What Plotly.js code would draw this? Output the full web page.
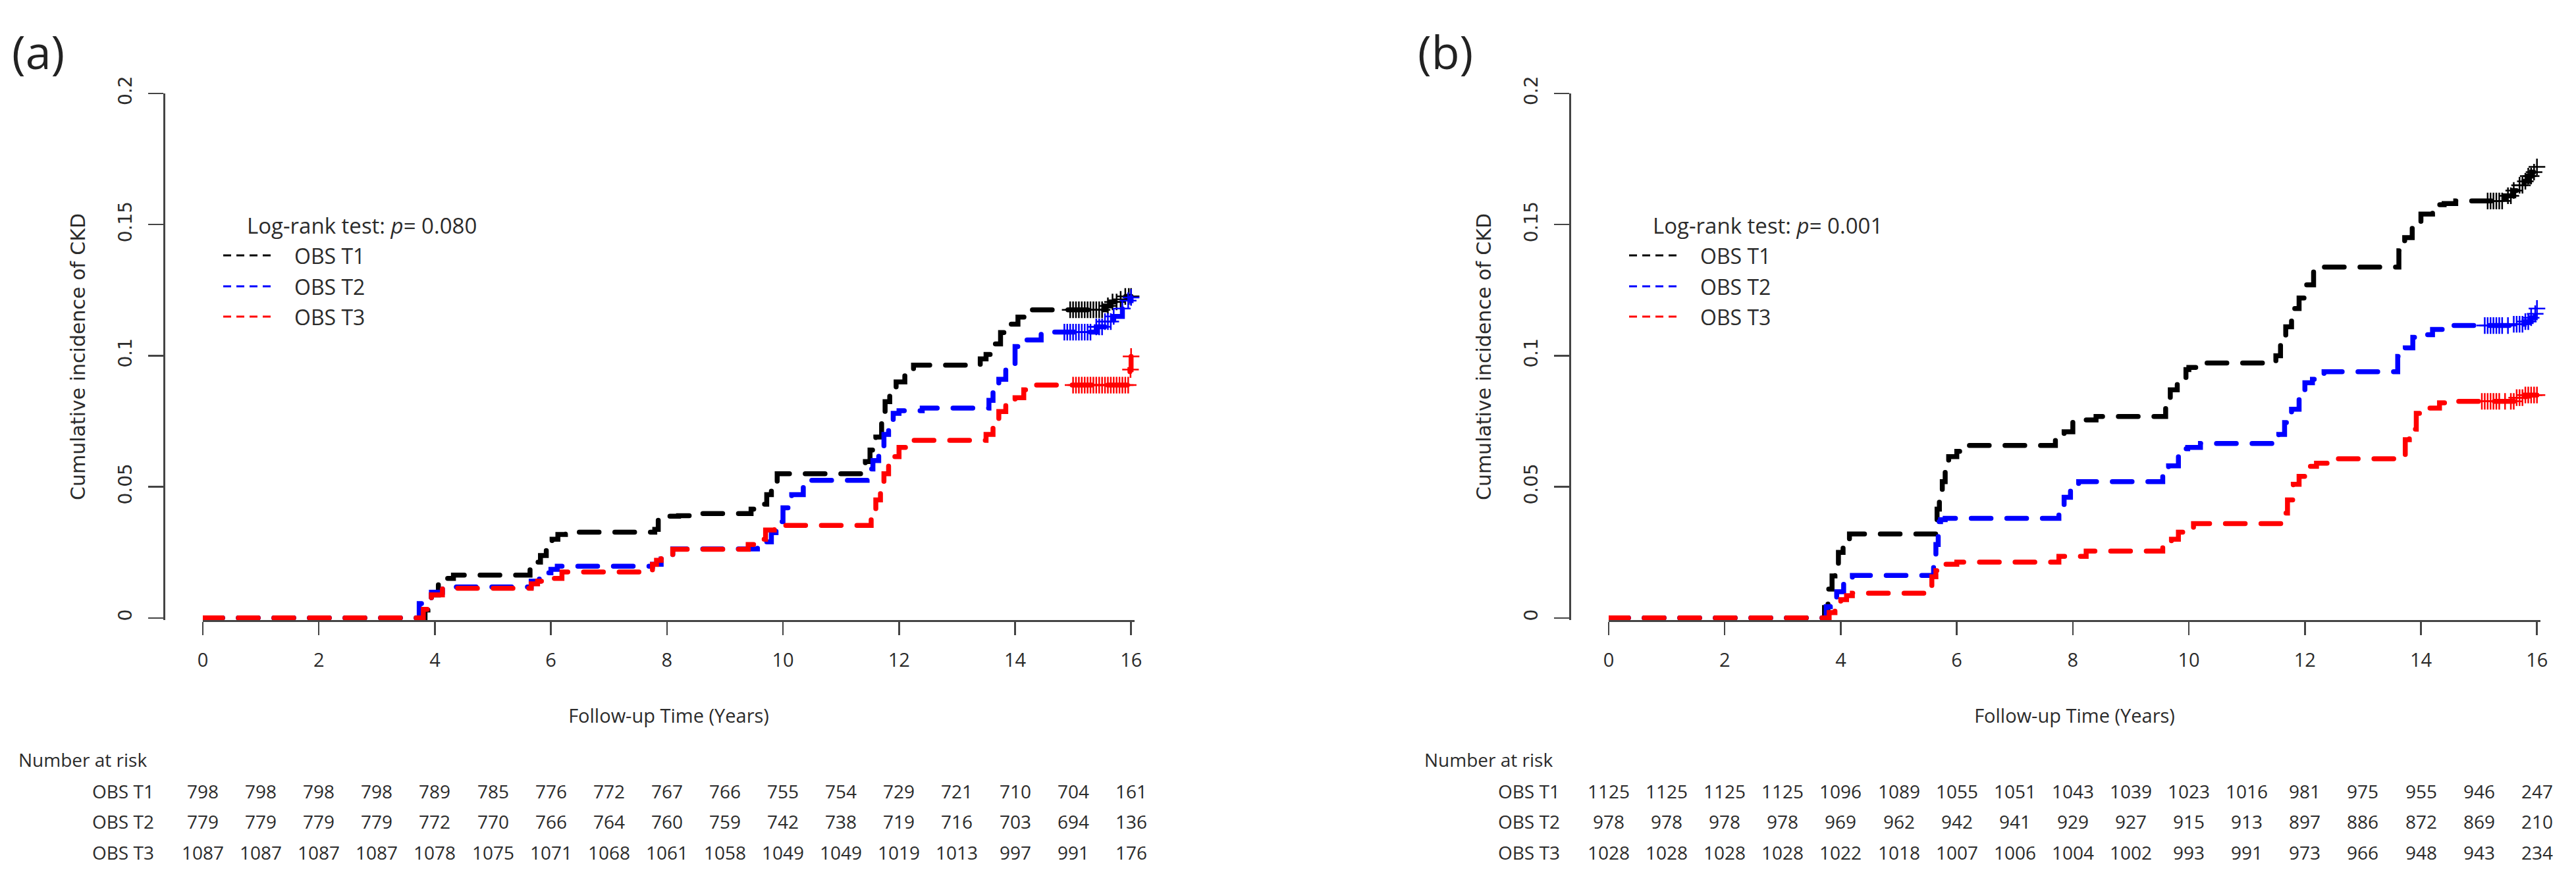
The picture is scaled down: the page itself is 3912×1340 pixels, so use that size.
<!DOCTYPE html>
<html>
<head>
<meta charset="utf-8">
<script src="https://cdn.plot.ly/plotly-3.0.1.min.js"></script>
<style>
html,body{margin:0;padding:0;background:#fff;}
#chart{width:3912px;height:1340px;}
.js-line{stroke-linecap:round;}
</style>
</head>
<body>
<div id="chart"></div>
<script>
// ---------- DATA ----------
const seriesNames = ["OBS T1", "OBS T2", "OBS T3"];
const riskYears = [0,1,2,3,4,5,6,7,8,9,10,11,12,13,14,15,16];
const xTickVals = [0,2,4,6,8,10,12,14,16];
const yTickVals = [0,0.05,0.1,0.15,0.2];
const yTickText = ["0","0.05","0.1","0.15","0.2"];
const pValueA = "0.080";
const pValueB = "0.001";

// Panel (a) step curves
const a_T1_t = [0,3.83,3.88,3.94,4.06,4.2,4.32,5.64,5.72,5.82,5.92,6.02,6.12,6.25,7.79,7.85,8.2,8.45,9.45,9.58,9.72,9.8,9.9,11.42,11.5,11.6,11.7,11.76,11.84,11.95,12.1,12.25,13.4,13.5,13.62,13.75,13.9,14.05,14.25,15.55,15.65,15.78,15.9,16];
const a_T1_v = [0,0.003,0.006,0.0088,0.0134,0.0151,0.0163,0.0185,0.0213,0.0238,0.027,0.030,0.0318,0.0327,0.0338,0.0388,0.039,0.0398,0.0415,0.0434,0.047,0.051,0.055,0.0596,0.064,0.069,0.075,0.0825,0.087,0.090,0.094,0.0964,0.0988,0.1005,0.1045,0.1088,0.112,0.1147,0.1175,0.119,0.1205,0.1215,0.1226,0.1226];
const a_T2_t = [0,3.73,3.85,3.94,4.13,4.3,5.66,5.8,5.9,6.0,6.11,7.75,7.9,8.1,9.56,9.7,9.8,9.88,10.0,10.15,10.35,11.45,11.55,11.65,11.74,11.82,11.9,12.0,12.4,13.55,13.62,13.72,13.84,14.0,14.2,14.45,15.4,15.55,15.7,15.85,15.95,16];
const a_T2_v = [0,0.0055,0.0075,0.0098,0.0112,0.0118,0.014,0.0155,0.0172,0.0185,0.0197,0.0205,0.0225,0.0263,0.0275,0.029,0.0325,0.0367,0.042,0.047,0.0525,0.0568,0.060,0.065,0.070,0.074,0.078,0.079,0.080,0.083,0.086,0.091,0.096,0.1035,0.106,0.109,0.111,0.113,0.115,0.118,0.121,0.1222];
const a_T3_t = [0,3.8,3.87,3.94,4.13,5.66,5.77,6.0,6.19,7.75,7.82,7.9,8.1,9.4,9.56,9.7,9.85,11.52,11.6,11.68,11.74,11.82,12.0,12.25,13.5,13.62,13.72,13.84,14.0,14.15,14.35,15.98,16];
const a_T3_v = [0,0.0033,0.006,0.0088,0.0113,0.013,0.014,0.0151,0.0175,0.0204,0.022,0.0237,0.0262,0.028,0.030,0.0335,0.0353,0.0396,0.045,0.049,0.055,0.0615,0.065,0.0677,0.070,0.0745,0.0787,0.0818,0.084,0.087,0.0888,0.0947,0.0997];

// Panel (a) censoring times
const a_T1_c = [14.95,15.0,15.05,15.1,15.15,15.2,15.25,15.3,15.35,15.4,15.45,15.5,15.6,15.68,15.75,15.82,15.9,15.96,16];
const a_T2_c = [14.85,14.9,14.95,15.0,15.05,15.1,15.15,15.2,15.25,15.3,15.4,15.45,15.5,15.55,15.6,15.65,15.7,15.85,15.95,16];
const a_T3_c = [15.0,15.05,15.1,15.15,15.2,15.25,15.3,15.35,15.4,15.45,15.5,15.55,15.6,15.65,15.7,15.75,15.8,15.85,15.9,15.95,15.99,16];

// Panel (b) step curves
const b_T1_t = [0,3.72,3.78,3.85,3.9,3.96,4.04,4.15,5.66,5.7,5.75,5.8,5.86,6.0,6.2,7.7,7.85,8.0,8.16,8.4,9.6,9.68,9.8,9.95,10.0,10.15,11.5,11.58,11.67,11.77,11.9,12.0,12.15,12.3,13.62,13.72,13.85,14.0,14.2,14.4,14.6,15.45,15.6,15.7,15.78,15.85,15.91,15.96,16];
const b_T1_v = [0,0.004,0.011,0.016,0.019,0.025,0.0296,0.032,0.0415,0.046,0.052,0.057,0.0615,0.0635,0.0658,0.068,0.071,0.0746,0.0755,0.0768,0.0838,0.087,0.0914,0.0947,0.0955,0.0972,0.100,0.106,0.111,0.118,0.122,0.127,0.132,0.1338,0.140,0.145,0.150,0.154,0.1576,0.158,0.159,0.161,0.163,0.165,0.1665,0.1685,0.170,0.172,0.172];
const b_T2_t = [0,3.75,3.82,3.93,4.05,4.2,5.6,5.64,5.68,5.72,5.8,7.76,7.85,7.96,8.1,9.55,9.65,9.82,9.98,10.2,11.55,11.65,11.77,11.9,12.0,12.13,12.33,13.6,13.73,13.86,14.0,14.2,14.45,15.6,15.78,15.9,15.97,16];
const b_T2_v = [0,0.0043,0.007,0.010,0.0148,0.0162,0.0224,0.028,0.0367,0.0375,0.038,0.042,0.046,0.050,0.052,0.056,0.058,0.0645,0.065,0.0665,0.070,0.0745,0.0796,0.085,0.0897,0.091,0.0939,0.0997,0.103,0.107,0.108,0.110,0.1115,0.112,0.113,0.1145,0.116,0.118];
const b_T3_t = [0,3.8,3.9,4.0,4.1,4.2,5.57,5.64,5.8,6.0,7.76,8.23,9.55,9.7,9.82,9.95,10.08,11.6,11.7,11.8,11.9,12.07,12.2,12.5,13.73,13.8,13.92,14.05,14.32,14.52,15.65,15.8,16];
const b_T3_v = [0,0.002,0.003,0.007,0.0085,0.0094,0.0157,0.018,0.0205,0.0213,0.0235,0.0255,0.0277,0.030,0.0327,0.034,0.036,0.040,0.045,0.051,0.054,0.0578,0.059,0.0607,0.068,0.072,0.078,0.080,0.082,0.0826,0.084,0.085,0.085];

// Panel (b) censoring times
const b_T1_c = [15.15,15.2,15.25,15.3,15.35,15.4,15.5,15.55,15.6,15.7,15.75,15.8,15.85,15.9,15.95,16];
const b_T2_c = [15.1,15.15,15.2,15.25,15.3,15.35,15.4,15.5,15.6,15.65,15.7,15.75,15.8,15.85,15.9,15.97,16];
const b_T3_c = [15.05,15.1,15.15,15.2,15.25,15.3,15.35,15.45,15.55,15.6,15.65,15.7,15.75,15.8,15.85,15.9,15.95,16];

// Number at risk
const a_T1_risk = [798,798,798,798,789,785,776,772,767,766,755,754,729,721,710,704,161];
const a_T2_risk = [779,779,779,779,772,770,766,764,760,759,742,738,719,716,703,694,136];
const a_T3_risk = [1087,1087,1087,1087,1078,1075,1071,1068,1061,1058,1049,1049,1019,1013,997,991,176];
const b_T1_risk = [1125,1125,1125,1125,1096,1089,1055,1051,1043,1039,1023,1016,981,975,955,946,247];
const b_T2_risk = [978,978,978,978,969,962,942,941,929,927,915,913,897,886,872,869,210];
const b_T3_risk = [1028,1028,1028,1028,1022,1018,1007,1006,1004,1002,993,991,973,966,948,943,234];

// ---------- STYLE / LAYOUT HELPERS ----------
const W = 3912, H = 1340;
const colors = ["#000000", "#0000ff", "#ff0000"];
const FONT_TXT = "Open Sans, Lato, sans-serif";
const FONT_Y = "DejaVu Sans, Verdana, sans-serif";
const TXT = "#2b2b2b";
const AX = "#444444";
const px = v => v / W;
const py = v => 1 - v / H;

function stepAt(t, v, time) {
  let val = v[0];
  for (let i = 0; i < t.length; i++) { if (t[i] <= time) val = v[i]; }
  return val;
}

const panels = [
  {xa: "x", ya: "y", dx: 0, curves: [[a_T1_t,a_T1_v,a_T1_c],[a_T2_t,a_T2_v,a_T2_c],[a_T3_t,a_T3_v,a_T3_c]],
   risk: [a_T1_risk,a_T2_risk,a_T3_risk], label: "(a)", p: pValueA},
  {xa: "x2", ya: "y2", dx: 2135, curves: [[b_T1_t,b_T1_v,b_T1_c],[b_T2_t,b_T2_v,b_T2_c],[b_T3_t,b_T3_v,b_T3_c]],
   risk: [b_T1_risk,b_T2_risk,b_T3_risk], label: "(b)", p: pValueB}
];

const traces = [];
const annotations = [];
const shapes = [];

panels.forEach(P => {
  P.curves.forEach((c, i) => {
    traces.push({
      type: "scatter", mode: "lines", x: c[0], y: c[1], xaxis: P.xa, yaxis: P.ya,
      name: seriesNames[i], showlegend: false, hoverinfo: "skip",
      line: {color: colors[i], width: 7.5, shape: "hv", dash: "30px,24px"}
    });
    traces.push({
      type: "scatter", mode: "markers", x: c[2], y: c[2].map(tt => stepAt(c[0], c[1], tt)),
      xaxis: P.xa, yaxis: P.ya, showlegend: false, hoverinfo: "skip", cliponaxis: false,
      marker: {symbol: "cross-thin", size: 18, color: colors[i], line: {color: colors[i], width: 2.5}}
    });
  });
  // panel label
  annotations.push({xref: "paper", yref: "paper", x: px(16 + P.dx), y: py(28), xanchor: "left", yanchor: "top",
    text: P.label, showarrow: false, font: {family: FONT_TXT, size: 70, color: "#222"}});
  // legend
  annotations.push({xref: "paper", yref: "paper", x: px(373 + P.dx), y: py(342), xanchor: "left", yanchor: "middle",
    text: "Log-rank test: <i>p</i>= " + P.p, showarrow: false, font: {family: FONT_TXT, size: 33, color: TXT}});
  [388, 435, 481].forEach((yy, i) => {
    shapes.push({type: "line", xref: "paper", yref: "paper", x0: px(339 + P.dx), x1: px(411 + P.dx), y0: py(yy), y1: py(yy),
      line: {color: colors[i], width: 3, dash: "12px,8px"}});
    annotations.push({xref: "paper", yref: "paper", x: px(445 + P.dx), y: py(yy), xanchor: "left", yanchor: "middle",
      text: seriesNames[i], showarrow: false, font: {family: FONT_TXT, size: 32, color: TXT}});
  });
  // number at risk
  annotations.push({xref: "paper", yref: "paper", x: px(26 + P.dx), y: py(1154), xanchor: "left", yanchor: "middle",
    text: "Number at risk", showarrow: false, font: {family: FONT_TXT, size: 28, color: TXT}});
  [1202, 1248, 1295].forEach((yy, i) => {
    annotations.push({xref: "paper", yref: "paper", x: px(236 + P.dx), y: py(yy), xanchor: "right", yanchor: "middle",
      text: seriesNames[i], showarrow: false, font: {family: FONT_TXT, size: 28, color: TXT}});
    P.risk[i].forEach((n, k) => {
      annotations.push({xref: P.xa, yref: "paper", x: riskYears[k], y: py(yy), xanchor: "center", yanchor: "middle",
        text: String(n), showarrow: false, font: {family: FONT_TXT, size: 28, color: TXT}});
    });
  });
});

function xAxis(x0, x1) {
  return {domain: [px(x0), px(x1)], range: [0, 16.06], anchor: "y", showgrid: false, zeroline: false,
    showline: true, linecolor: AX, linewidth: 2.5, ticks: "outside", ticklen: 20, tickwidth: 2.5, tickcolor: AX,
    tickvals: xTickVals, ticktext: xTickVals.map(String), ticklabelstandoff: 14,
    tickfont: {family: FONT_TXT, size: 29, color: TXT},
    title: {text: "Follow-up Time (Years)", font: {family: FONT_TXT, size: 29, color: TXT}, standoff: 58}};
}
function yAxis(pos) {
  return {domain: [py(942), py(142)], range: [-0.0008, 0.2], anchor: "free", position: px(pos), showgrid: false,
    zeroline: false, showline: true, linecolor: AX, linewidth: 2.5, ticks: "outside", ticklen: 23, tickwidth: 2.5,
    tickcolor: AX, tickvals: yTickVals, ticktext: yTickText, tickangle: -90, ticklabelstandoff: 14,
    tickfont: {family: FONT_Y, size: 28, color: TXT},
    title: {text: "Cumulative incidence of CKD", font: {family: FONT_Y, size: 30, color: TXT}, standoff: 34}};
}

const xa1 = xAxis(308, 1723);
const xa2 = xAxis(2443, 3858); xa2.anchor = "y2";
const ya1 = yAxis(249);
const ya2 = yAxis(2384);

const layout = {
  width: W, height: H, margin: {l: 0, r: 0, t: 0, b: 0},
  paper_bgcolor: "#ffffff", plot_bgcolor: "#ffffff", showlegend: false,
  xaxis: xa1, yaxis: ya1, xaxis2: xa2, yaxis2: ya2,
  annotations: annotations, shapes: shapes
};

Plotly.newPlot("chart", traces, layout, {staticPlot: true, displayModeBar: false});
</script>
</body>
</html>
